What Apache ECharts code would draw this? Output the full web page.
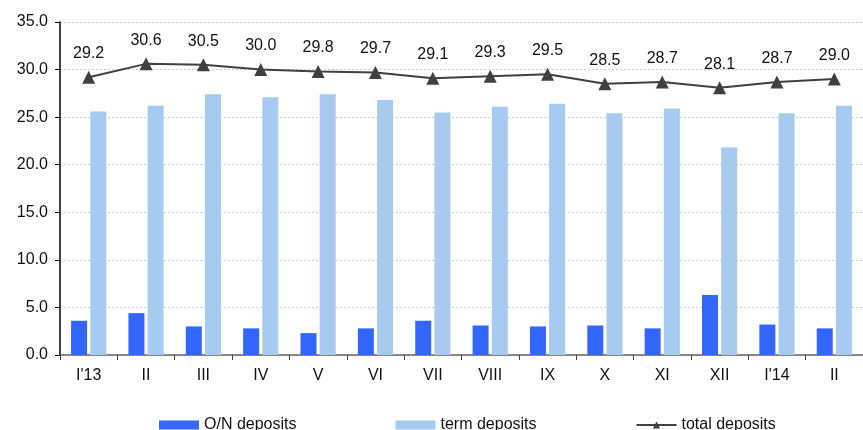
<!DOCTYPE html>
<html>
<head>
<meta charset="utf-8">
<script src="https://cdn.jsdelivr.net/npm/echarts@6/dist/echarts.min.js"></script>
<style>
  html, body { margin: 0; padding: 0; background: #fff; }
  #chart { width: 863px; height: 430px; }
</style>
</head>
<body>
<div id="chart"></div>
<script>
// Monthly deposits, Jan 2013 – Feb 2014
const months = ["I'13", 'II', 'III', 'IV', 'V', 'VI', 'VII', 'VIII', 'IX', 'X', 'XI', 'XII', "I'14", 'II'];
const overnightDeposits = [3.6, 4.4, 3.0, 2.8, 2.3, 2.8, 3.6, 3.1, 3.0, 3.1, 2.8, 6.3, 3.2, 2.8];
const termDeposits = [25.6, 26.2, 27.4, 27.1, 27.4, 26.8, 25.5, 26.1, 26.4, 25.4, 25.9, 21.8, 25.4, 26.2];
const totalDeposits = [29.2, 30.6, 30.5, 30.0, 29.8, 29.7, 29.1, 29.3, 29.5, 28.5, 28.7, 28.1, 28.7, 29.0];
const yTicks = { min: 0, max: 35, step: 5 };

const FONT = 'Liberation Sans, Arial, sans-serif';
const chart = echarts.init(document.getElementById('chart'), null, { renderer: 'canvas' });

chart.setOption({
  backgroundColor: '#ffffff',
  animation: false,
  textStyle: { fontFamily: FONT },
  grid: { left: 60, top: 22, width: 807, height: 333, containLabel: false },
  legend: {
    left: 154,
    top: 412,
    itemWidth: 40,
    itemHeight: 9,
    itemGap: 99,
    textStyle: { fontFamily: FONT, fontSize: 16, color: '#111' },
    data: [
      { name: 'O/N deposits', icon: 'rect' },
      { name: 'term deposits', icon: 'rect' },
      { name: 'total deposits' }
    ]
  },
  xAxis: {
    type: 'category',
    data: months,
    boundaryGap: true,
    axisLine: { lineStyle: { color: '#666', width: 1.5 } },
    axisTick: { show: true, length: 5, lineStyle: { color: '#444' } },
    axisLabel: { fontFamily: FONT, fontSize: 16, color: '#111', margin: 13 },
    splitLine: { show: false }
  },
  yAxis: {
    type: 'value',
    min: yTicks.min,
    max: yTicks.max,
    interval: yTicks.step,
    axisLine: { show: true, lineStyle: { color: '#000', width: 1.5 } },
    axisTick: { show: true, length: 5, lineStyle: { color: '#000' } },
    axisLabel: {
      fontFamily: FONT, fontSize: 16, color: '#111', margin: 12,
      formatter: v => v.toFixed(1)
    },
    splitLine: { show: true, lineStyle: { color: '#cccccc', type: [2, 2], width: 1 } }
  },
  series: [
    {
      name: 'O/N deposits',
      type: 'bar',
      data: overnightDeposits,
      barWidth: 16,
      barGap: '20%',
      itemStyle: { color: '#3366ff' }
    },
    {
      name: 'term deposits',
      type: 'bar',
      data: termDeposits,
      barWidth: 16,
      barGap: '20%',
      itemStyle: { color: '#a7caf0' }
    },
    {
      name: 'total deposits',
      type: 'line',
      data: totalDeposits,
      symbol: 'triangle',
      symbolSize: 13,
      lineStyle: { color: '#404040', width: 2 },
      itemStyle: { color: '#404040' },
      label: {
        show: true,
        position: 'top',
        distance: 9,
        fontFamily: FONT,
        fontSize: 16,
        color: '#111',
        formatter: p => p.value.toFixed(1)
      },
      z: 5
    }
  ]
});
</script>
</body>
</html>
